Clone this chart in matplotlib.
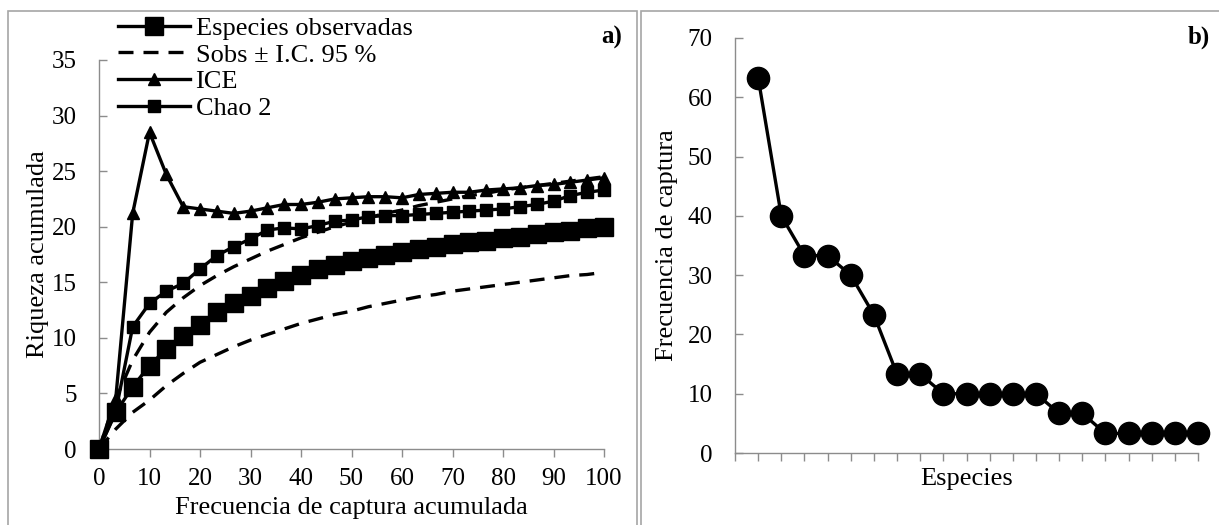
import matplotlib
matplotlib.use("Agg")
import matplotlib.pyplot as plt
from matplotlib.patches import Rectangle

# --- data: panel a) accumulation curves (x = cumulative capture frequency) ---
frec_acum = [0, 3.33, 6.67, 10, 13.33, 16.67, 20, 23.33, 26.67, 30, 33.33,
             36.67, 40, 43.33, 46.67, 50, 53.33, 56.67, 60, 63.33, 66.67,
             70, 73.33, 76.67, 80, 83.33, 86.67, 90, 93.33, 96.67, 100]
sobs = [0, 3.3, 5.6, 7.5, 9.0, 10.2, 11.2, 12.3, 13.1, 13.8, 14.5,
        15.1, 15.7, 16.2, 16.6, 16.9, 17.2, 17.5, 17.75, 18.0, 18.2,
        18.4, 18.6, 18.75, 18.95, 19.1, 19.3, 19.5, 19.65, 19.85, 20.0]
sobs_inf = [0, 1.8, 3.3, 4.4, 5.7, 6.8, 7.8, 8.5, 9.2, 9.8, 10.3,
            10.8, 11.3, 11.7, 12.1, 12.4, 12.8, 13.1, 13.4, 13.7, 13.9,
            14.2, 14.4, 14.6, 14.8, 15.0, 15.2, 15.4, 15.6, 15.7, 15.9]
sobs_sup = [0, 4.5, 8.0, 10.5, 12.3, 13.6, 14.7, 15.6, 16.4, 17.1, 17.8,
            18.4, 19.0, 19.5, 20.0, 20.4, 20.8, 21.2, 21.5, 21.9, 22.2,
            22.5, 22.8, 23.0, 23.3, 23.5, 23.7, 23.9, 24.1, 24.3, 24.5]
ice = [0, 4.6, 21.2, 28.5, 24.7, 21.8, 21.6, 21.4, 21.2, 21.4, 21.7,
       22.0, 22.0, 22.2, 22.5, 22.6, 22.7, 22.7, 22.6, 22.9, 23.0,
       23.1, 23.1, 23.3, 23.4, 23.5, 23.7, 23.8, 24.0, 24.2, 24.4]
chao2 = [0, 3.4, 11.0, 13.1, 14.2, 14.9, 16.2, 17.4, 18.2, 18.9, 19.7,
         19.9, 19.8, 20.1, 20.5, 20.6, 20.9, 21.0, 21.0, 21.1, 21.2,
         21.3, 21.4, 21.5, 21.6, 21.8, 22.0, 22.3, 22.8, 23.1, 23.3]

# --- data: panel b) capture frequency per species (rank order) ---
especies = list(range(1, 21))
frec_captura = [63.3, 40.0, 33.3, 33.3, 30.0, 23.3, 13.3, 13.3, 10.0, 10.0,
                10.0, 10.0, 10.0, 6.7, 6.7, 3.3, 3.3, 3.3, 3.3, 3.3]

plt.rcParams['font.family'] = ['Liberation Serif', 'DejaVu Serif']
fs_tick = 18
fs = 19
gris = '#8c8c8c'

fig = plt.figure(figsize=(12.19, 5.25), dpi=100)

# panel frames (cut by the image edges)
fig.patches.append(Rectangle((8 / 1219, -0.1), 629 / 1219, 1.1 - 11 / 525,
                             transform=fig.transFigure, fill=False,
                             edgecolor='#a6a6a6', lw=1.2))
fig.patches.append(Rectangle((641 / 1219, -0.1), 0.6, 1.1 - 11 / 525,
                             transform=fig.transFigure, fill=False,
                             edgecolor='#a6a6a6', lw=1.2))

# --- a) ---
ax1 = fig.add_axes([99 / 1219, 76 / 525, 505 / 1219, 389 / 525])
ax1.plot(frec_acum, sobs, color='black', lw=2.4, marker='s', ms=13,
         clip_on=False, zorder=4, label='Especies observadas')
ax1.plot(frec_acum, sobs_inf, color='black', lw=2.4, ls=(0, (4.5, 3)),
         zorder=3, label='Sobs ± I.C. 95 %')
ax1.plot(frec_acum, sobs_sup, color='black', lw=2.4, ls=(0, (4.5, 3)),
         zorder=3)
ax1.plot(frec_acum, ice, color='black', lw=2.4, marker='^', ms=9,
         clip_on=False, zorder=5, label='ICE')
ax1.plot(frec_acum, chao2, color='black', lw=2.4, marker='s', ms=9,
         clip_on=False, zorder=5, label='Chao 2')

ax1.set_xlim(0, 100)
ax1.set_ylim(0, 35)
ax1.set_xticks(range(0, 101, 10))
ax1.set_yticks(range(0, 36, 5))
ax1.set_xlabel('Frecuencia de captura acumulada', fontsize=fs, labelpad=5)
ax1.set_ylabel('Riqueza acumulada', fontsize=fs, labelpad=2)
ax1.text(1.036, 1.059, 'a)', transform=ax1.transAxes, ha='right',
         va='center', fontsize=fs_tick, fontweight='bold')

leg = ax1.legend(loc='upper left', bbox_to_anchor=(0.037, 1.112), frameon=False,
                 fontsize=fs, handlelength=2.75, handletextpad=0.2,
                 labelspacing=0.12, borderpad=0, borderaxespad=0)

# --- b) ---
ax2 = fig.add_axes([735 / 1219, 72 / 525, 463 / 1219, 415 / 525])
ax2.plot(especies, frec_captura, color='black', lw=2.4, marker='o', ms=16,
         clip_on=False, zorder=4)
ax2.set_xlim(0, 20)
ax2.set_ylim(0, 70)
ax2.set_xticks(range(0, 21))
ax2.set_xticklabels([])
ax2.set_yticks(range(0, 71, 10))
ax2.set_xlabel('Especies', fontsize=fs, labelpad=-3)
ax2.set_ylabel('Frecuencia de captura', fontsize=fs, labelpad=7)
ax2.text(1.026, 1.002, 'b)', transform=ax2.transAxes, ha='right',
         va='center', fontsize=fs_tick, fontweight='bold')

for ax in (ax1, ax2):
    for s in ('top', 'right'):
        ax.spines[s].set_visible(False)
    for s in ('left', 'bottom'):
        ax.spines[s].set_color(gris)
        ax.spines[s].set_linewidth(1.0)
    ax.tick_params(axis='y', direction='in', length=6, width=1.0, color=gris,
                   labelsize=fs_tick, pad=16)
    ax.tick_params(axis='x', direction='out', length=6, width=1.0, color=gris,
                   labelsize=fs_tick, pad=8)

fig.savefig('out.png', dpi=100)
